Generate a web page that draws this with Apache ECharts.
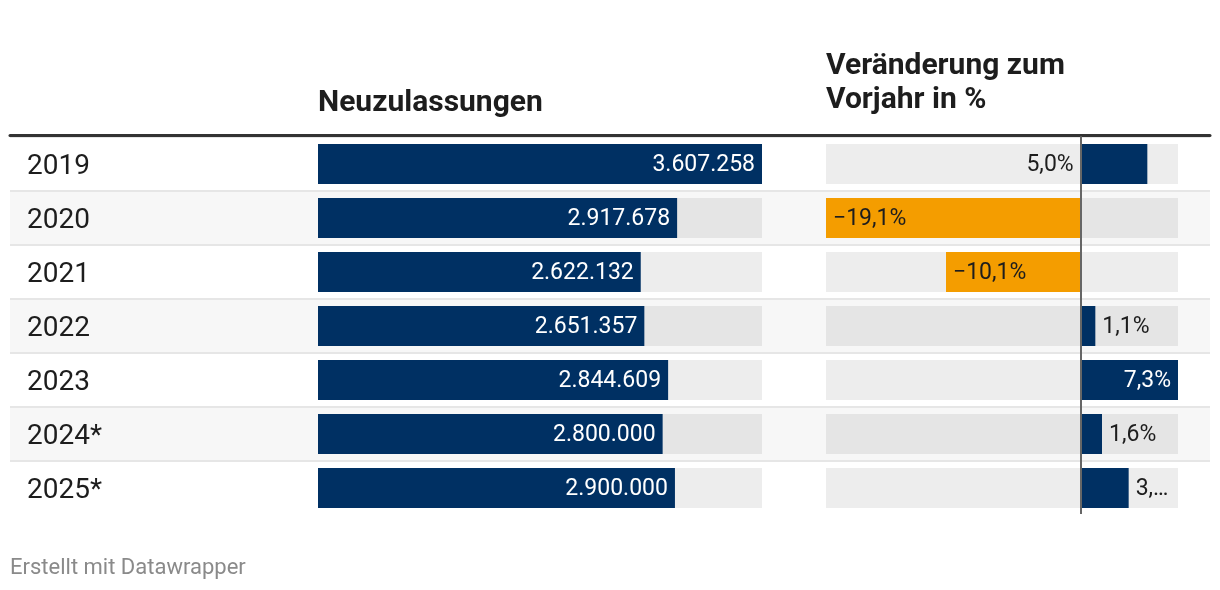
<!DOCTYPE html>
<html>
<head>
<meta charset="utf-8">
<script src="https://cdn.jsdelivr.net/npm/echarts@6/dist/echarts.min.js"></script>
<style>
html,body{margin:0;padding:0;background:#fff;}
#chart{width:1220px;height:590px;}
</style>
</head>
<body>
<div id="chart"></div>
<script>
// ---- data ----
const years = ['2019', '2020', '2021', '2022', '2023', '2024*', '2025*'];
const registrations = [3607258, 2917678, 2622132, 2651357, 2844609, 2800000, 2900000];
const changePct = [5.0, -19.1, -10.1, 1.1, 7.3, 1.6, 3.6];
const headers = ['Neuzulassungen', 'Veränderung zum\nVorjahr in %'];
const footer = 'Erstellt mit Datawrapper';

// ---- helpers ----
const FONT = 'Roboto';
const NAVY = '#003063';
const ORANGE = '#f49d00';
const TEXT = '#1d1d1d';
function fmtInt(n) { return String(n).replace(/\B(?=(\d{3})+(?!\d))/g, '.'); }
function fmtPct(v) { return (v < 0 ? '\u2212' : '') + Math.abs(v).toFixed(1).replace('.', ',') + '%'; }

const rowsTop = 137, rowH = 54;
const gridH = rowH * years.length;
const chgLeft = 826, chgWidth = 352;
const chgMin = Math.min(...changePct), chgMax = Math.max(...changePct);
const labelDist = 7;
const valFont = 23;

const changeData = changePct.map(v => {
  const item = { value: v, itemStyle: { color: v < 0 ? ORANGE : NAVY } };
  let label;
  if (v < 0) {
    label = { position: 'insideLeft', color: TEXT, distance: labelDist };
  } else if (v === chgMax) {
    label = { position: 'insideRight', color: '#fff', distance: labelDist };
  } else {
    const room = (chgMax - v) / (chgMax - chgMin) * chgWidth - labelDist;
    if (room < 40) {
      label = { position: 'left', color: TEXT, distance: labelDist };
    } else {
      label = { position: 'right', color: TEXT, distance: labelDist, width: room, overflow: 'truncate', ellipsis: '\u2026' };
    }
  }
  item.label = label;
  return item;
});

const chart = echarts.init(document.getElementById('chart'), null, { renderer: 'canvas' });
chart.setOption({
  animation: false,
  textStyle: { fontFamily: FONT },
  title: [
    { text: headers[0], left: 313, top: 81, textStyle: { fontFamily: FONT, fontSize: 30, fontWeight: 'bold', color: TEXT, lineHeight: 34 } },
    { text: headers[1], left: 821, top: 44, textStyle: { fontFamily: FONT, fontSize: 30, fontWeight: 'bold', color: TEXT, lineHeight: 34 } },
    { text: footer, left: 5, top: 552, textStyle: { fontFamily: FONT, fontSize: 22, fontWeight: 'normal', color: '#8a8a8a' } }
  ],
  grid: [
    { left: 10, right: 10, top: rowsTop, height: gridH },
    { left: 318, width: 444, top: rowsTop, height: gridH },
    { left: chgLeft, width: chgWidth, top: rowsTop, height: gridH }
  ],
  xAxis: [
    { gridIndex: 0, type: 'value', min: 0, max: 1, position: 'top', offset: 1.5,
      axisLine: { show: true, lineStyle: { color: '#333', width: 3 } },
      axisTick: { show: false }, axisLabel: { show: false }, splitLine: { show: false } },
    { gridIndex: 1, type: 'value', min: 0, max: 'dataMax', show: false, splitLine: { show: false } },
    { gridIndex: 2, type: 'value', min: 'dataMin', max: 'dataMax', show: false, splitLine: { show: false } },
    { gridIndex: 0, type: 'value', min: 0, max: 1, position: 'bottom', z: 6,
      axisLine: { show: true, lineStyle: { color: '#ffffff', width: 3 } },
      axisTick: { show: false }, axisLabel: { show: false }, splitLine: { show: false } }
  ],
  yAxis: [
    { gridIndex: 0, type: 'category', data: years, inverse: true,
      axisLine: { show: false }, axisTick: { show: false },
      axisLabel: { inside: true, margin: 17, fontSize: 28, color: TEXT, fontFamily: FONT, verticalAlign: 'top', lineHeight: 5 },
      splitArea: { show: true, areaStyle: { color: ['rgba(255,255,255,0)', '#f7f7f7'] } },
      splitLine: { show: true, lineStyle: { color: '#e6e6e6', width: 2 } } },
    { gridIndex: 1, type: 'category', data: years, inverse: true, show: false },
    { gridIndex: 2, type: 'category', data: years, inverse: true, z: 5,
      axisLine: { show: true, onZero: true, lineStyle: { color: '#666', width: 2 } },
      axisTick: { show: false }, axisLabel: { show: false }, splitLine: { show: false } }
  ],
  series: [
    { type: 'bar', xAxisIndex: 1, yAxisIndex: 1, data: registrations, barWidth: 40,
      itemStyle: { color: NAVY },
      showBackground: true, backgroundStyle: { color: 'rgba(0,0,0,0.07)' },
      label: { show: true, position: 'insideRight', distance: labelDist, color: '#fff', fontSize: valFont, fontFamily: FONT,
        verticalAlign: 'top', lineHeight: 2, formatter: p => fmtInt(p.value) } },
    { type: 'bar', xAxisIndex: 2, yAxisIndex: 2, data: changeData, barWidth: 40,
      showBackground: true, backgroundStyle: { color: 'rgba(0,0,0,0.07)' },
      label: { show: true, fontSize: valFont, fontFamily: FONT, verticalAlign: 'top', lineHeight: 2, formatter: p => fmtPct(p.value) } }
  ]
});
</script>
</body>
</html>
